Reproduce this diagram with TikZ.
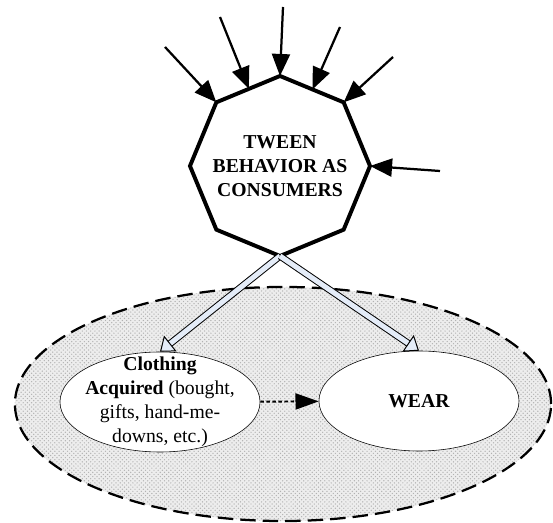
\documentclass[tikz,border=0pt]{standalone}
\usepackage{fontspec}
\setmainfont{Liberation Serif}
\usetikzlibrary{arrows.meta, shapes.geometric, patterns}

\definecolor{arrowfill}{RGB}{228,236,248}

\begin{document}
\begin{tikzpicture}[
    x=0.025cm, y=-0.025cm,
    txt/.style={align=center, font=\fontsize{14}{17}\selectfont},
    octo/.style={draw, line width=2.8pt, regular polygon, regular polygon sides=8, shape border rotate=22.5, minimum size=4.5cm, inner sep=0pt, outer sep=0pt},
    oval/.style={draw, ellipse, fill=white, thin, minimum width=5cm, minimum height=2.5cm, inner sep=0pt},
    inarr/.style={-{Triangle[length=0.55cm, width=0.45cm]}, line width=1.6pt},
    hollow/.style={double=arrowfill, double distance=3.6pt, line width=0.7pt, -{Triangle[open, fill=arrowfill, length=0.33cm, width=0.5cm]}},
    >=Triangle
]
\useasboundingbox (0,0) rectangle (553,523);

% Dashed zone
\node[draw, ellipse, preaction={fill=black!7}, pattern=crosshatch dots, pattern color=black!30, line width=1.6pt, dash pattern=on 11pt off 5pt, minimum width=13.4cm, minimum height=5.85cm] (zone) at (283,404) {};

% Central octagon
\node[octo, label={[txt, font=\fontsize{14}{17}\selectfont\bfseries]center:TWEEN\\BEHAVIOR AS\\CONSUMERS}] (oct) at (280,166) {};

% Incoming influences
\coordinate (in1) at (165,47);
\coordinate (in2) at (220,17);
\coordinate (in3) at (283,7);
\coordinate (in4) at (340,27);
\coordinate (in5) at (393,57);
\coordinate (in6) at (440,171);
\draw[inarr] (in1) -- (oct.135);
\draw[inarr] (in2) -- (oct.112.5);
\draw[inarr] (in3) -- (oct.90);
\draw[inarr] (in4) -- (oct.67.5);
\draw[inarr] (in5) -- (oct.45);
\draw[inarr] (in6) -- (oct.0);

% Outcomes
\node[oval, label={[txt]center:\textbf{Clothing}\\\textbf{Acquired} (bought,\\gifts, hand-me-\\downs, etc.)}] (clo) at (160,402) {};
\node[oval, label={[txt]center:\textbf{WEAR}}] (wear) at (419,401) {};

\draw[hollow] (oct.270) -- (clo.north);
\draw[hollow] (oct.270) -- (wear.north);
\draw[-{Triangle[length=0.58cm, width=0.4cm]}, line width=1.4pt, dash pattern=on 2.5pt off 1.8pt] (clo) -- (wear);

\end{tikzpicture}
\end{document}
